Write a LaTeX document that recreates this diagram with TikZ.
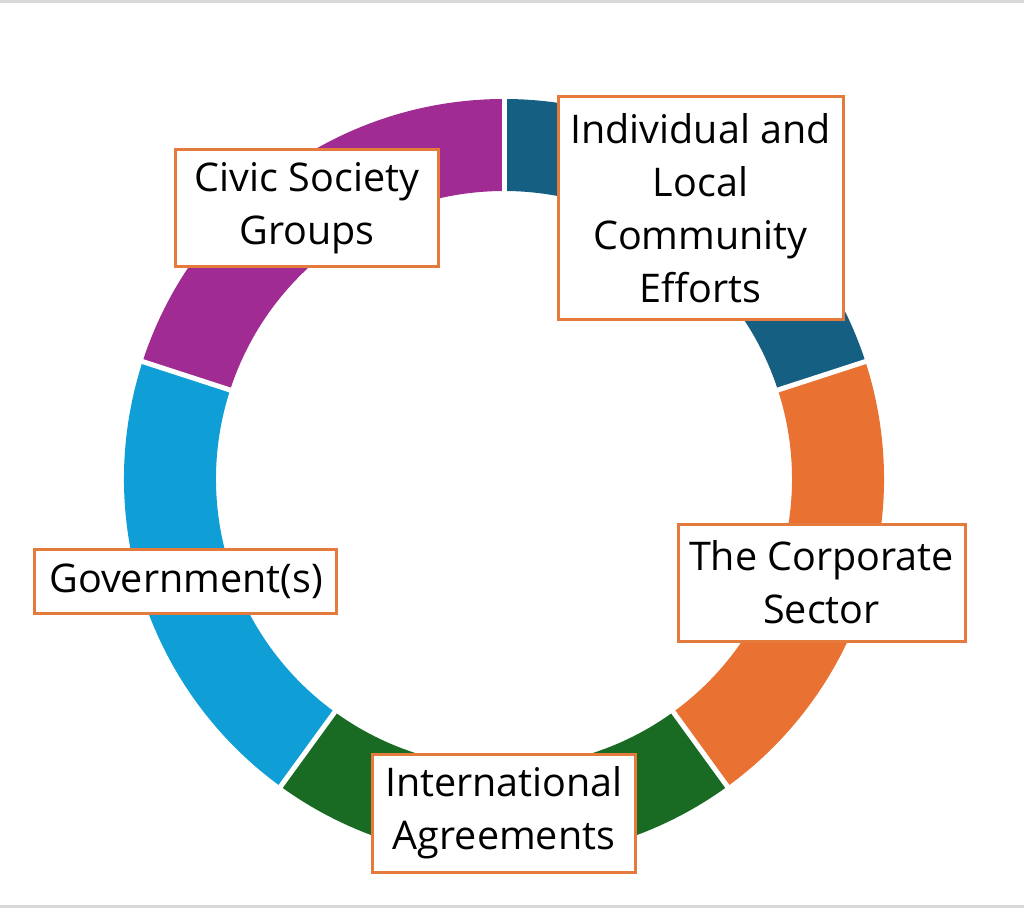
\documentclass[tikz,border=0pt]{standalone}
\usepackage{fontspec}
\setmainfont{Open Sans}
\usepackage{tikz}
\definecolor{segteal}{HTML}{156082}
\definecolor{segorange}{HTML}{E97132}
\definecolor{seggreen}{HTML}{196B24}
\definecolor{segblue}{HTML}{0F9ED5}
\definecolor{segpurple}{HTML}{A02B93}
\definecolor{boxline}{HTML}{E47B3D}
\usetikzlibrary{positioning}

\begin{document}
\begin{tikzpicture}[x=1pt, y=1pt,
        actor/.style = {draw = boxline, line width = 3pt, fill = white, align = center,
            inner sep = 0pt, font = \fontsize{39.5}{53}\selectfont}]
        \useasboundingbox (-504,-429) rectangle (520,479);
        \fill[gray!30] (-504,476) rectangle (520,479);
        \fill[gray!30] (-504,-429) rectangle (520,-426);
        % ring
        \foreach \a/\c in {90/segteal, 18/segorange, -54/seggreen, -126/segblue, -198/segpurple}
            \fill[\c] (\a:380) arc (\a:\a-72:380) -- (\a-72:288) arc (\a-72:\a:288) -- cycle;
        \foreach \a in {90, 18, -54, -126, -198}
            \draw[white, line width = 5pt] (\a:280) -- (\a:390);
        % labels
        \node[actor, minimum width = 285, minimum height = 222] (indiv) at (196.5,271)
            {Individual and\\Local\\Community\\Efforts};
        \node[actor, minimum width = 262, minimum height = 117] (civic) at (-197,270.5)
            {Civic Society\\Groups};
        \node[actor, minimum width = 287, minimum height = 117] (corp) at (317.5,-103.5)
            {The Corporate\\Sector};
        \node[actor, minimum width = 302, minimum height = 64] (govt) at (-318,-102)
            {Government(s)};
        \node[actor, minimum width = 262, minimum height = 118] (intl) at (0,-334)
            {International\\Agreements};
    \end{tikzpicture}
\end{document}
